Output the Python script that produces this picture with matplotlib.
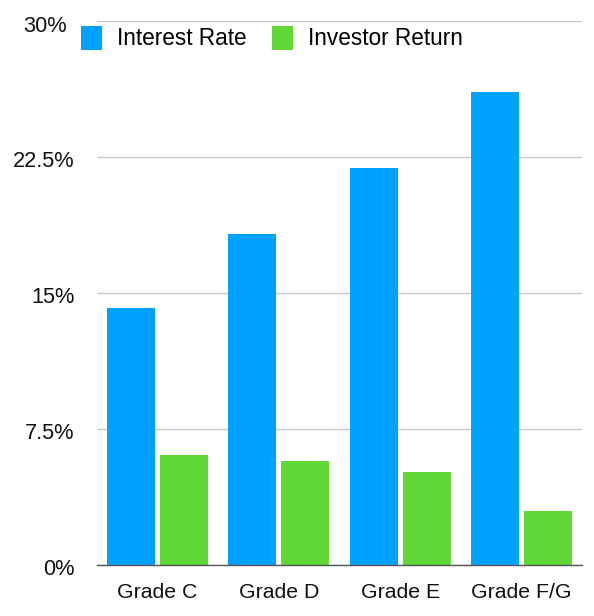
import numpy as np
import matplotlib
matplotlib.use("Agg")
import matplotlib.pyplot as plt
from matplotlib.transforms import ScaledTranslation

grades = ["Grade C", "Grade D", "Grade E", "Grade F/G"]
interest_rate = [14.2, 18.25, 21.9, 26.1]
investor_return = [6.07, 5.75, 5.13, 2.98]
yticks = [0, 7.5, 15, 22.5, 30]
ytick_labels = ["0%", "7.5%", "15%", "22.5%", "30%"]

blue = "#00A2FF"
green = "#61D836"

plt.rcParams["font.family"] = ["Liberation Sans", "DejaVu Sans"]

fig = plt.figure(figsize=(5.94, 6.16), dpi=100)
ax = fig.add_axes([97/594, (616-565)/616, (582-97)/594, (565-21)/616])

x = np.arange(len(grades))
w = 0.397
off = w/2 + 0.02
ax.bar(x - off, interest_rate, w, color=blue, label="Interest Rate", zorder=3)
ax.bar(x + off, investor_return, w, color=green, label="Investor Return", zorder=3)

ax.set_xlim(-0.5, len(grades) - 0.5)
ax.set_ylim(0, 30)
ax.set_yticks(yticks)
ax.set_yticklabels(ytick_labels)
ax.set_xticks(x)
ax.set_xticklabels(grades)
ax.tick_params(axis="both", length=0, colors="#111111")
ax.tick_params(axis="y", pad=16, labelsize=15.7)
ax.tick_params(axis="x", pad=13, labelsize=15.3)

# labels sit a bit below their gridlines; the top one is also nudged left
labels = ax.get_yticklabels()
for i, lab in enumerate(labels):
    dx = -8/100 if i == len(labels) - 1 else 0
    dy = -3/100 if i == len(labels) - 1 else -2/100
    lab.set_transform(lab.get_transform() + ScaledTranslation(dx, dy, fig.dpi_scale_trans))

ax.yaxis.grid(True, color="#C8C8C8", linewidth=1)
ax.set_axisbelow(True)
for s in ["left", "right", "top"]:
    ax.spines[s].set_visible(False)
ax.spines["bottom"].set_color("#555555")
ax.spines["bottom"].set_linewidth(1)
ax.spines["bottom"].set_zorder(4)

fig.legend(loc="upper left", bbox_to_anchor=(74/594, 1 - 19/616), ncol=2,
           frameon=False, fontsize=16.3, handlelength=0.95, handleheight=1.25,
           handletextpad=0.65, columnspacing=1.1, borderaxespad=0, borderpad=0.3)

fig.savefig("out.png", dpi=100, facecolor="white")
